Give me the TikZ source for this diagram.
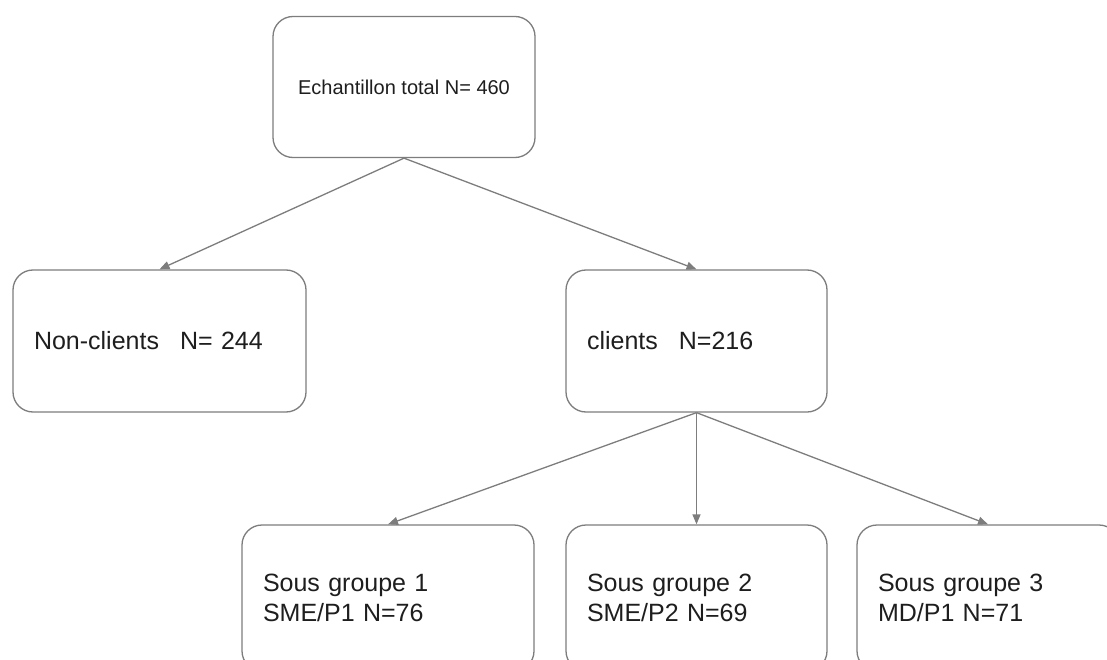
\documentclass[tikz,border=0pt]{standalone}
\usepackage{fontspec}
\setmainfont{Liberation Sans}
\usetikzlibrary{arrows.meta}
\definecolor{linegray}{RGB}{125,125,125}
\definecolor{txt}{RGB}{30,30,30}
\begin{document}
\begin{tikzpicture}[x=1pt,y=-1pt,
 box/.style={draw=linegray, line width=1.3pt, rounded corners=20pt, fill=white, text=txt,
   inner xsep=21pt, inner ysep=0pt, align=left, font=\fontsize{25}{30}\selectfont},
 conn/.style={draw=linegray, line width=1.3pt, -{Triangle[length=10pt,width=8pt]}}]
\useasboundingbox (0,0) rectangle (1107,660);
\clip (0,0) rectangle (1107,660);
\node[box, minimum width=262pt, minimum height=141pt, align=center,
  font=\fontsize{20}{24}\selectfont] (total) at (404,87) {Echantillon total N= 460};
\node[box, minimum height=142pt, text width=251pt] (non) at (159.5,341) {Non-clients\hspace{21pt}N= 244};
\node[box, minimum height=142pt, text width=219pt] (cli) at (696.5,341) {clients\hspace{21pt}N=216};
\node[box, minimum height=146pt, text width=250pt] (sg1) at (388,598) {Sous groupe 1\\SME/P1 N=76};
\node[box, minimum height=146pt, text width=219pt] (sg2) at (696.5,598) {Sous groupe 2\\SME/P2 N=69};
\node[box, minimum height=146pt, text width=220pt] (sg3) at (988,598) {Sous groupe 3\\MD/P1 N=71};
\draw[conn] (total.south) -- (non.north);
\draw[conn] (total.south) -- (cli.north);
\draw[conn] (cli.south) -- (sg1.north);
\draw[conn] (cli.south) -- (sg2.north);
\draw[conn] (cli.south) -- (sg3.north);
\end{tikzpicture}
\end{document}
